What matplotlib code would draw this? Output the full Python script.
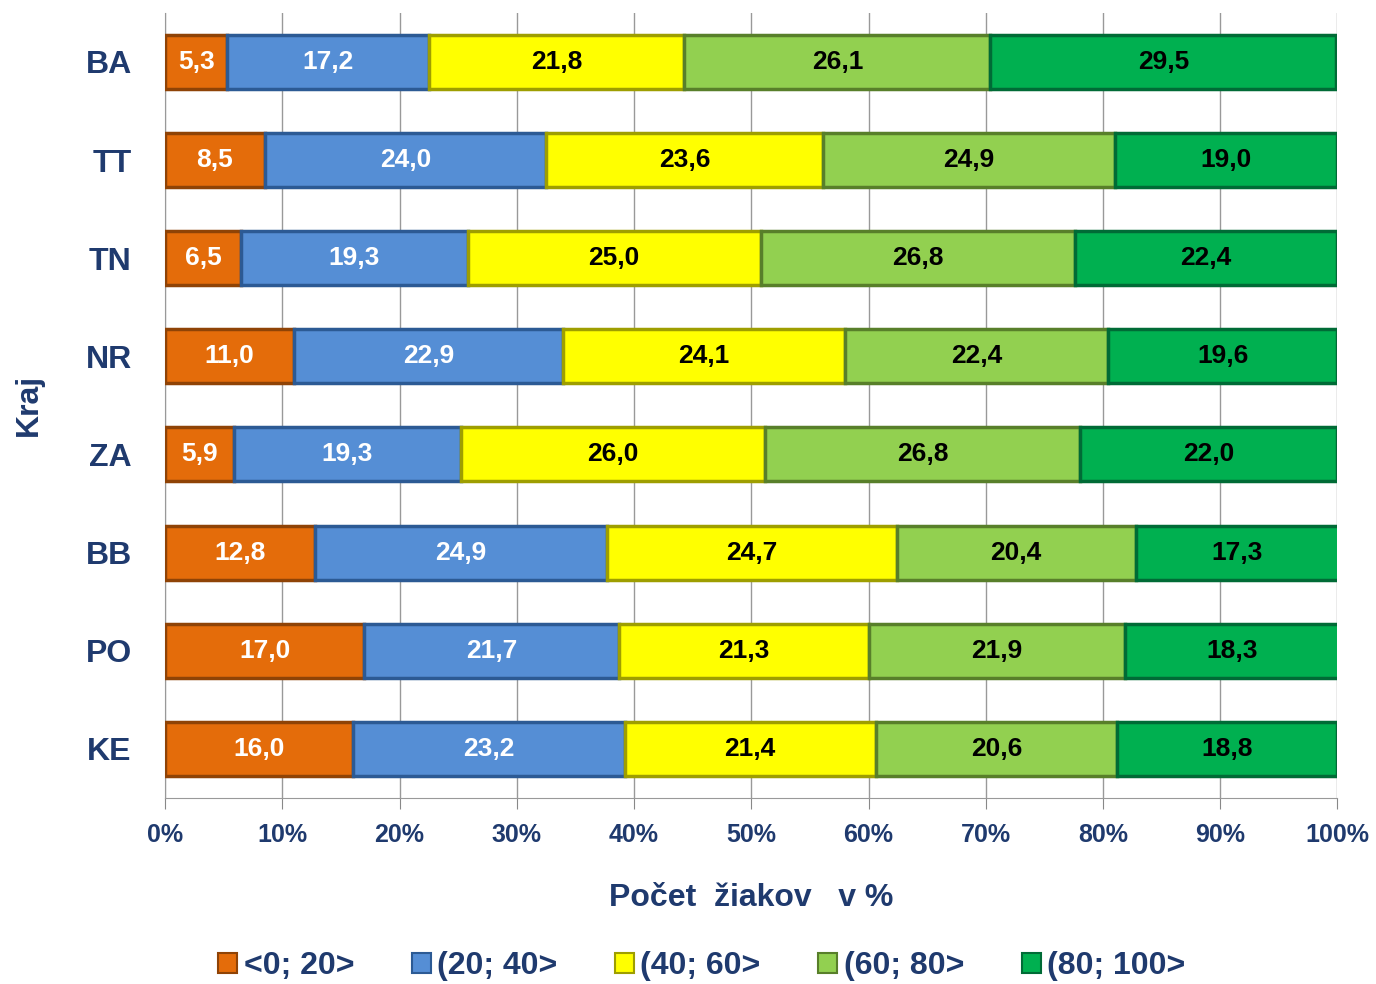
import numpy as np
import matplotlib.pyplot as plt
from matplotlib.patches import Patch

# podiel ziakov podla intervalu uspesnosti, kraje SR
kraje = ["BA", "TT", "TN", "NR", "ZA", "BB", "PO", "KE"]
intervaly = ["<0; 20>", "(20; 40>", "(40; 60>", "(60; 80>", "(80; 100>"]
p_0_20 = [5.3, 8.5, 6.5, 11.0, 5.9, 12.8, 17.0, 16.0]
p_20_40 = [17.2, 24.0, 19.3, 22.9, 19.3, 24.9, 21.7, 23.2]
p_40_60 = [21.8, 23.6, 25.0, 24.1, 26.0, 24.7, 21.3, 21.4]
p_60_80 = [26.1, 24.9, 26.8, 22.4, 26.8, 20.4, 21.9, 20.6]
p_80_100 = [29.5, 19.0, 22.4, 19.6, 22.0, 17.3, 18.3, 18.8]

farby = ["#E46C0A", "#558ED5", "#FFFF00", "#92D050", "#00B050"]
okraje = ["#8F4306", "#2C5A94", "#9E9E00", "#587F2A", "#006B36"]
farby_textu = ["white", "white", "black", "black", "black"]
navy = "#1F3A6E"

plt.rcParams['font.family'] = ['Liberation Sans', 'DejaVu Sans']
plt.rcParams['font.weight'] = 'bold'

fig = plt.figure(figsize=(13.76, 9.84), dpi=100)
ax = fig.add_axes([0.120, 0.189, 0.852, 0.798])

data = np.array([p_0_20, p_20_40, p_40_60, p_60_80, p_80_100])
y = np.arange(len(kraje))
left = np.zeros(len(kraje))
for i in range(len(intervaly)):
    bars = ax.barh(y, data[i], left=left, height=0.55, color=farby[i],
                   edgecolor=okraje[i], linewidth=2.5, zorder=3)
    # popisky hodnot s desatinnou ciarkou
    for b, v in zip(bars, data[i]):
        ax.text(b.get_x() + b.get_width() / 2, b.get_y() + b.get_height() / 2,
                f"{v:.1f}".replace(".", ","), ha="center", va="center",
                fontsize=19, fontweight="bold", color=farby_textu[i], zorder=4)
    left += data[i]

ax.set_xlim(0, 100)
ax.set_ylim(len(kraje) - 0.5, -0.5)
ax.set_yticks(y)
ax.set_yticklabels(kraje, fontsize=23, color=navy, fontweight="bold")
ax.set_xticks(np.arange(0, 101, 10))
ax.set_xticklabels([f"{t}%" for t in range(0, 101, 10)], fontsize=18,
                   color=navy, fontweight="bold")
ax.tick_params(axis="y", length=0, pad=24)
ax.tick_params(axis="x", length=8, color="#888888", pad=10)
ax.grid(axis="x", color="#999999", linewidth=1, zorder=0)
for s in ["top", "right"]:
    ax.spines[s].set_visible(False)
ax.spines["left"].set_color("#999999")
ax.spines["bottom"].set_color("#999999")

ax.set_xlabel("Počet  žiakov   v %", fontsize=23, color=navy, fontweight="bold",
              labelpad=26)
ax.set_ylabel("Kraj", fontsize=23, color=navy, fontweight="bold", labelpad=30)

handles = [Patch(facecolor=farby[i], edgecolor=okraje[i], linewidth=1.5)
           for i in range(len(intervaly))]
fig.legend(handles, intervaly, loc="center", bbox_to_anchor=(0.51, 0.018),
           ncol=5, frameon=False, fontsize=23, handlelength=0.6,
           handleheight=0.6, handletextpad=0.2, columnspacing=1.8,
           labelcolor=navy)

fig.savefig("out.png", dpi=100)
